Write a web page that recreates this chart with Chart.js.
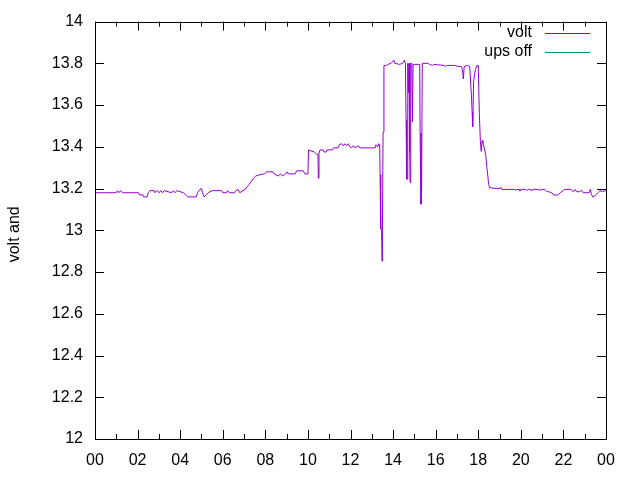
<!DOCTYPE html>
<html><head><meta charset="utf-8">
<script src="https://cdn.jsdelivr.net/npm/chart.js@4/dist/chart.umd.min.js"></script>
<style>html,body{margin:0;padding:0;background:#fff}#wrap{width:640px;height:480px}</style>
</head><body><div id="wrap"><canvas id="c" width="640" height="480"></canvas></div>
<script>
// ---- data (hour of day, volts) ----
const hours = [
 0.00,0.50,1.00,1.05,1.12,1.20,1.30,2.05,2.08,2.25,2.28,2.45,2.50,2.58,2.78,2.82,2.90,3.02,3.08,3.18,3.25,3.60,3.68,3.75,3.85,4.15,4.25,4.35,4.75,4.82,4.92,5.00,5.05,5.12,5.22,5.32,5.50,5.95,6.00,6.18,6.22,6.32,6.55,6.62,6.72,6.80,6.95,7.05,7.15,7.25,7.35,7.45,7.55,7.70,7.95,8.05,8.35,8.42,8.60,8.72,8.80,8.95,9.02,9.10,9.40,9.47,9.78,9.86,10.00,
 10.03,10.15,10.30,10.40,10.47,10.49,10.52,10.57,10.72,10.76,10.86,10.90,11.15,11.20,11.42,11.48,11.58,11.66,11.74,11.82,11.90,11.97,12.05,12.13,12.21,12.29,12.37,12.44,13.15,13.20,13.28,13.33,13.37,
 13.39,13.42,13.46,13.48,13.50,13.53,13.57,13.70,13.75,13.90,14.04,14.08,14.30,14.45,14.53,14.58,14.61,14.64,14.67,14.69,14.72,14.75,14.78,14.80,14.83,14.88,14.91,14.94,15.25,15.27,15.31,15.34,15.37,
 15.65,15.70,15.85,15.90,16.40,16.45,16.55,16.90,17.05,17.20,17.26,17.30,17.34,17.50,17.60,17.64,17.68,17.71,17.74,17.78,17.83,17.87,17.94,18.00,18.05,18.10,18.14,18.18,18.22,18.28,18.35,18.40,18.45,18.49,18.53,
 18.85,19.02,19.05,19.10,19.72,19.76,19.80,19.92,19.96,20.02,20.20,20.27,20.35,20.45,20.50,20.55,20.80,20.90,20.95,21.12,21.20,21.30,21.45,21.53,21.74,21.78,21.85,22.00,22.07,22.35,22.40,22.47,22.55,22.62,22.75,22.85,22.93,23.22,23.26,23.32,23.37,23.45,23.55,23.62,23.70,23.85,23.92,24.00
];
const volt = [
 13.18,13.18,13.18,13.19,13.18,13.19,13.18,13.18,13.17,13.17,13.16,13.16,13.18,13.19,13.19,13.18,13.19,13.18,13.19,13.18,13.19,13.18,13.19,13.18,13.19,13.18,13.17,13.16,13.16,13.18,13.195,13.20,13.18,13.16,13.17,13.18,13.19,13.19,13.18,13.18,13.19,13.18,13.18,13.19,13.195,13.18,13.19,13.195,13.21,13.22,13.235,13.25,13.26,13.265,13.27,13.28,13.28,13.27,13.26,13.27,13.26,13.27,13.28,13.27,13.27,13.285,13.285,13.27,13.27,
 13.385,13.38,13.375,13.365,13.365,13.25,13.37,13.385,13.385,13.375,13.375,13.385,13.385,13.395,13.395,13.41,13.415,13.405,13.415,13.405,13.415,13.40,13.395,13.405,13.395,13.40,13.405,13.395,13.395,13.41,13.40,13.415,13.41,
 13.267,13.006,13.006,12.852,13.0,13.47,13.79,13.79,13.795,13.80,13.815,13.80,13.795,13.80,13.815,13.80,13.53,13.245,13.245,13.80,13.66,13.80,13.38,13.228,13.80,13.80,13.52,13.795,13.795,13.465,13.125,13.212,13.80,
 13.80,13.795,13.79,13.795,13.79,13.785,13.79,13.79,13.785,13.785,13.77,13.725,13.785,13.79,13.785,13.71,13.647,13.568,13.497,13.71,13.75,13.77,13.79,13.79,13.56,13.426,13.378,13.43,13.42,13.394,13.362,13.307,13.26,13.22,13.204,
 13.20,13.20,13.207,13.196,13.196,13.191,13.196,13.196,13.188,13.196,13.196,13.191,13.196,13.196,13.188,13.196,13.196,13.191,13.196,13.196,13.188,13.185,13.18,13.169,13.169,13.172,13.18,13.191,13.196,13.196,13.191,13.185,13.196,13.185,13.185,13.191,13.18,13.18,13.196,13.172,13.16,13.163,13.172,13.18,13.188,13.188,13.185,13.196
];
const upsOff = [];
const seriesLabels = ['volt', 'ups off'];
const seriesColors = ['#9400d3', '#009e73'];
const xTickLabels = ['00','02','04','06','08','10','12','14','16','18','20','22','00'];
const yTickLabels = ['12','12.2','12.4','12.6','12.8','13','13.2','13.4','13.6','13.8','14'];
const yTitle = 'volt and';

const FONT = "'Liberation Sans', Arial, sans-serif";
const FSIZE = 16;

const gnuFrame = {
  id: 'gnuFrame',
  afterDatasetsDraw(chart) {
    const ctx = chart.ctx, a = chart.chartArea;
    const xs = chart.scales.x, ys = chart.scales.y;
    ctx.save();
    ctx.strokeStyle = '#000';
    ctx.lineWidth = 1;
    ctx.beginPath();
    // x ticks (major on even hours, minor on odd), bottom and top, inward
    for (let h = xs.min; h <= xs.max; h++) {
      const px = Math.round(xs.getPixelForValue(h)) + 0.5;
      const len = (h % 2 === 0) ? 9 : 5;
      ctx.moveTo(px, a.bottom); ctx.lineTo(px, a.bottom - len);
      ctx.moveTo(px, a.top); ctx.lineTo(px, a.top + len);
    }
    // y ticks left and right
    ys.ticks.forEach(t => {
      const py = Math.round(ys.getPixelForValue(t.value)) + 0.5;
      ctx.moveTo(a.left, py); ctx.lineTo(a.left + 9, py);
      ctx.moveTo(a.right, py); ctx.lineTo(a.right - 9, py);
    });
    ctx.stroke();
    // border
    ctx.strokeRect(Math.round(a.left) + 0.5, Math.round(a.top) + 0.5,
                   Math.round(a.right - a.left), Math.round(a.bottom - a.top));
    // legend (gnuplot style: text right-aligned, sample line to the right)
    ctx.font = FSIZE + 'px ' + FONT;
    ctx.textAlign = 'right';
    ctx.textBaseline = 'middle';
    chart.data.datasets.forEach((ds, i) => {
      const y = 33 + i * 19;
      ctx.fillStyle = '#000';
      ctx.fillText(ds.label, 532, y);
      ctx.strokeStyle = ds.borderColor;
      ctx.beginPath();
      ctx.moveTo(545, y + 0.5); ctx.lineTo(590, y + 0.5);
      ctx.stroke();
    });
    // y axis title
    ctx.fillStyle = '#000';
    ctx.textAlign = 'center';
    ctx.translate(15, (a.top + a.bottom) / 2 + 4);
    ctx.rotate(-Math.PI / 2);
    ctx.fillText(yTitle, 0, 0);
    ctx.restore();
  }
};

new Chart(document.getElementById('c'), {
  type: 'line',
  data: {
    datasets: [
      { label: seriesLabels[0], data: hours.map((h, i) => ({x: h, y: volt[i]})),
        borderColor: seriesColors[0], backgroundColor: seriesColors[0],
        borderWidth: 1, pointRadius: 0, tension: 0, fill: false },
      { label: seriesLabels[1], data: upsOff,
        borderColor: seriesColors[1], backgroundColor: seriesColors[1],
        borderWidth: 1, pointRadius: 0, tension: 0, fill: false }
    ]
  },
  options: {
    responsive: false,
    animation: false,
    devicePixelRatio: 1,
    layout: { padding: { top: 18, right: 34, left: 0, bottom: 0 } },
    plugins: { legend: { display: false }, tooltip: { enabled: false } },
    scales: {
      x: {
        type: 'linear', min: 0, max: 24,
        grid: { display: false, drawTicks: false },
        border: { display: false },
        ticks: { stepSize: 2, autoSkip: false, maxRotation: 0, padding: 12,
                 color: '#000', font: { family: FONT, size: FSIZE },
                 callback: (v) => xTickLabels[Math.round(v / 2)] },
        afterFit: (s) => { s.height = 41; }
      },
      y: {
        type: 'linear', min: 12, max: 14,
        grid: { display: false, drawTicks: false },
        border: { display: false },
        ticks: { stepSize: 0.2, autoSkip: false, padding: 12,
                 color: '#000', font: { family: FONT, size: FSIZE },
                 callback: (v) => yTickLabels[Math.round((v - 12) / 0.2)] },
        afterFit: (s) => { s.width = 95; }
      }
    }
  },
  plugins: [gnuFrame]
});
</script>
</body></html>
